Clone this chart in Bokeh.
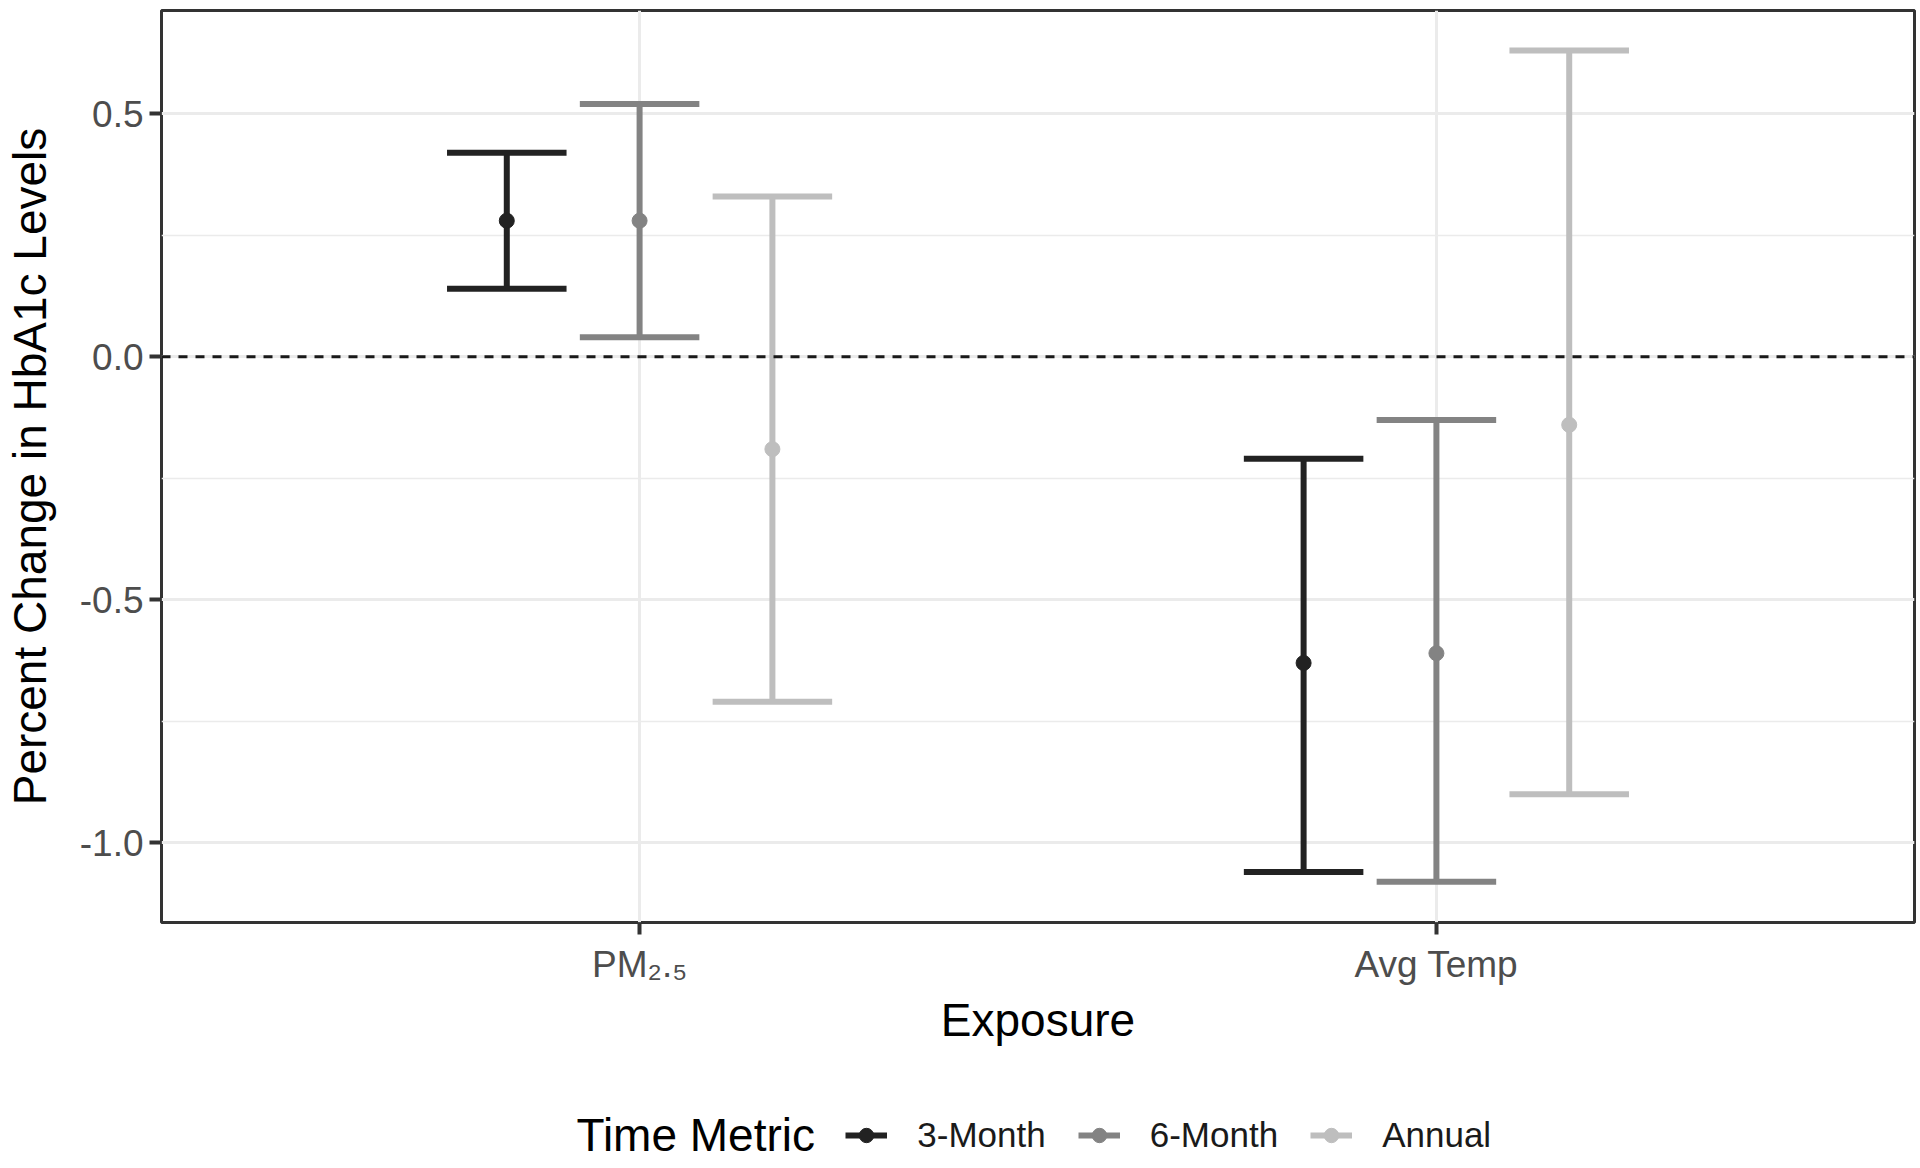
from bokeh.plotting import figure
from bokeh.layouts import column
from bokeh.models import (ColumnDataSource, FixedTicker, Span, Legend, LegendItem,
                          Label, Range1d)
from bokeh.embed import file_html
from bokeh.resources import INLINE

# ---- data ----
exposures = ["PM\u2082.\u2085", "Avg Temp"]
metrics = ["3-Month", "6-Month", "Annual"]
colors = ["#222222", "#838383", "#BEBEBE"]

est_3m = [0.28, -0.63]
low_3m = [0.14, -1.06]
up_3m = [0.42, -0.21]

est_6m = [0.28, -0.61]
low_6m = [0.04, -1.08]
up_6m = [0.52, -0.13]

est_an = [-0.19, -0.14]
low_an = [-0.71, -0.90]
up_an = [0.33, 0.63]

y_ticks = [-1.0, -0.5, 0.0, 0.5]
y_tick_labels = ["-1.0", "-0.5", "0.0", "0.5"]
y_minor = [-0.75, -0.25, 0.25]

series = [
    (est_3m, low_3m, up_3m),
    (est_6m, low_6m, up_6m),
    (est_an, low_an, up_an),
]

FONT = "Liberation Sans"
LW = 6
dodge = [-1.0 / 6, 0.0, 1.0 / 6]
cap_half = 0.075
cat_pos = [1, 2]

FRAME_W = 1753
BORDER_L = 148
BORDER_R = 3
MAIN_H = 1052
LEG_H = 108

p = figure(frame_width=FRAME_W, frame_height=912,
           min_border_left=BORDER_L, min_border_right=BORDER_R, min_border_top=10,
           min_border_bottom=MAIN_H - 912 - 10,
           x_range=Range1d(0.4, 2.6), y_range=Range1d(-1.164, 0.7125),
           output_backend="svg", toolbar_location=None,
           background_fill_color="white", border_fill_color="white")

p.outline_line_color = "#333333"
p.outline_line_width = 3

# axes
p.xaxis.ticker = FixedTicker(ticks=cat_pos)
p.xaxis.major_label_overrides = {c: e for c, e in zip(cat_pos, exposures)}
p.yaxis.ticker = FixedTicker(ticks=y_ticks, minor_ticks=y_minor)
p.yaxis.major_label_overrides = {t: s for t, s in zip(y_ticks, y_tick_labels)}

for ax in (p.xaxis[0], p.yaxis[0]):
    ax.axis_line_color = None
    ax.major_tick_line_color = "#333333"
    ax.major_tick_line_width = 4
    ax.major_tick_out = 12
    ax.major_tick_in = 0
    ax.minor_tick_line_color = None
    ax.major_label_text_font = FONT
    ax.major_label_text_font_size = "37px"
    ax.major_label_text_color = "#4D4D4D"
    ax.axis_label_text_font = FONT
    ax.axis_label_text_font_size = "46px"
    ax.axis_label_text_font_style = "normal"
    ax.axis_label_text_color = "#000000"

p.xaxis.axis_label = "Exposure"
p.yaxis.axis_label = "Percent Change in HbA1c Levels"
p.xaxis.major_label_standoff = 9
p.yaxis.major_label_standoff = 6
p.xaxis.axis_label_standoff = 6
p.yaxis.axis_label_standoff = 21

# grids
p.xgrid.grid_line_color = "#EBEBEB"
p.xgrid.grid_line_width = 3
p.ygrid.grid_line_color = "#EBEBEB"
p.ygrid.grid_line_width = 3
p.ygrid.minor_grid_line_color = "#EBEBEB"
p.ygrid.minor_grid_line_width = 1.5

# zero reference line
p.add_layout(Span(location=0, dimension="width", line_color="#1A1A1A",
                  line_width=3, line_dash="9 8"))

for i, (m, col, (est, low, up)) in enumerate(zip(metrics, colors, series)):
    xs = [c + dodge[i] for c in cat_pos]
    src = ColumnDataSource(dict(
        x=xs, est=est, low=low, up=up,
        xl=[x - cap_half for x in xs], xr=[x + cap_half for x in xs]))
    p.segment(x0="x", y0="low", x1="x", y1="up", source=src,
              line_color=col, line_width=LW)
    p.segment(x0="xl", y0="low", x1="xr", y1="low", source=src,
              line_color=col, line_width=LW)
    p.segment(x0="xl", y0="up", x1="xr", y1="up", source=src,
              line_color=col, line_width=LW)
    p.scatter(x="x", y="est", source=src, size=15, marker="circle",
              fill_color=col, line_color=col)

# ---- legend strip: frame aligned with the main frame, pixel-based ranges ----
q = figure(frame_width=FRAME_W, frame_height=LEG_H,
           min_border_left=BORDER_L, min_border_right=BORDER_R,
           min_border_top=0, min_border_bottom=0,
           x_range=Range1d(0, FRAME_W), y_range=Range1d(0, LEG_H),
           x_axis_type=None, y_axis_type=None,
           output_backend="svg", toolbar_location=None,
           background_fill_color="white", border_fill_color="white")
q.outline_line_color = None
q.xgrid.visible = False
q.ygrid.visible = False

items = []
nan = float("nan")
for m, col in zip(metrics, colors):
    proxy = ColumnDataSource(dict(x=[nan], y=[nan]))
    lr = q.segment(x0="x", y0="y", x1="x", y1="y", source=proxy,
                   line_color=col, line_width=LW)
    pr = q.scatter(x="x", y="y", source=proxy, size=15, marker="circle",
                   fill_color=col, line_color=col)
    items.append(LegendItem(label=m, renderers=[lr, pr]))

legend = Legend(items=items, orientation="horizontal", location=(795, 5),
                glyph_width=42, glyph_height=36, label_height=36,
                label_standoff=30, spacing=32, padding=0, margin=0,
                border_line_color=None, background_fill_alpha=0,
                label_text_font=FONT, label_text_font_size="35px",
                label_text_color="#1A1A1A")
q.add_layout(legend, "center")

q.add_layout(Label(x=415, y=26, text="Time Metric", text_font=FONT,
                   text_font_size="46px", text_color="#000000",
                   text_baseline="middle", text_align="left"))

layout = column(p, q, spacing=0)
open("out.html", "w").write(file_html(layout, INLINE))
